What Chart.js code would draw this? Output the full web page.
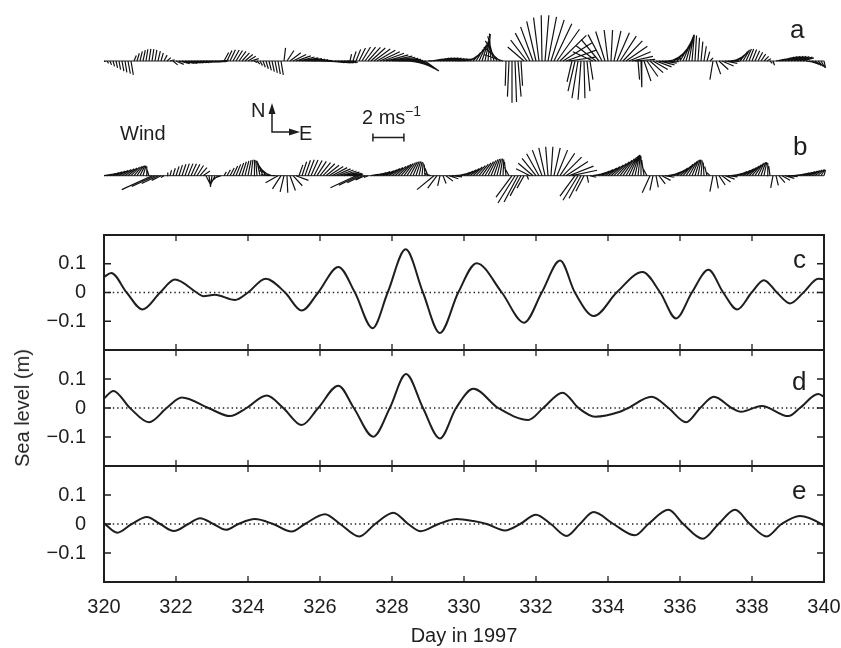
<!DOCTYPE html>
<html>
<head>
<meta charset="utf-8">
<script src="https://cdn.jsdelivr.net/npm/chart.js@4.4.1/dist/chart.umd.min.js"></script>
<style>
  body { margin: 0; background: #fff; }
  #fig { position: relative; width: 841px; height: 648px; overflow: hidden;
         font-family: "Liberation Sans", Arial, Helvetica, sans-serif; color: #1e1e1e; }
  canvas { position: absolute; left: 0; }
  .t { position: absolute; white-space: nowrap; line-height: 1; font-size: 20px; }
  .letter { font-size: 26px; }
</style>
</head>
<body>
<div id="fig">
  <canvas id="wind" width="841" height="220" style="top:0"></canvas>
  <canvas id="panelC" width="841" height="135" style="top:225px"></canvas>
  <canvas id="panelD" width="841" height="136" style="top:340px"></canvas>
  <canvas id="panelE" width="841" height="192" style="top:456px"></canvas>

  <div class="t letter" style="left:790px;top:16px">a</div>
  <div class="t letter" style="left:793px;top:133px">b</div>
  <div class="t letter" style="left:793px;top:246px">c</div>
  <div class="t letter" style="left:792px;top:368px">d</div>
  <div class="t letter" style="left:792px;top:477px">e</div>

  <div class="t" style="left:120px;top:123px">Wind</div>
  <div class="t" style="left:251px;top:100px">N</div>
  <div class="t" style="left:299px;top:123px">E</div>
  <div class="t" style="left:362px;top:107px">2 ms</div>
  <div class="t" style="left:405px;top:104px;font-size:14px">−1</div>

  <div class="t" style="left:22px;top:408px;transform:translate(-50%,-50%) rotate(-90deg)">Sea level (m)</div>
  <div class="t" style="left:464px;top:625px;transform:translateX(-50%)">Day in 1997</div>
</div>
<script>
const ink = '#1e1e1e';
const family = '"Liberation Sans", Arial, Helvetica, sans-serif';

// wind sticks (m/s), 2-hourly from day 320; one row per day
const windStart = 320;
const windStep = 1 / 12;

const aU = [
  0.1, 0.1, 0.1, 0.1, 0.1, 0.1, 0.12, 0.12, 0.15, 0.15, 0.15, 0.15,
  0.15, 0.15, 0.12, 0.12, 0.12, 0.12, 0.15, 0.15, 0.2, 0.25, 0.3, 0.3,
  0.5, 0.7, 0.8, 0.8, 0.8, 0.8, 0.8, 0.8, 0.8, 0.8, 0.8, 0.8,
  0.75, 0.7, 0.6, 0.5, 0.3, 0.32, 0.35, 0.4, 0.42, 0.45, 0.48, 0.5,
  0.5, 0.5, 0.2, 0.18, 0.16, 0.15, 0.15, 0.15, 0.15, 0.15, 0.15, 0.15,
  0.1, 0.45, 0.7, 0.85, 0.95, 1.0, 1.05, 1.1, 1.1, 1.1, 1.05, 1.0,
  1.0, 1.0, 1.0, 1.0, 1.0, 1.0, 1.0, 1.0, 0.9, 0.6, 0.1, 0.2,
  0.3, 0.42, 0.55, 0.68, 0.8, 0.92, 1.05, 1.18, 1.28, 1.36, 1.44, 1.5,
  1.5, 1.5, 1.48, 1.42, 1.35, 1.25, 1.2, 1.15, 1.1, 1.05, 1.0, 0.9,
  0.6, 0.75, 0.8, 0.8, 0.8, 0.8, 0.8, 0.8, 0.8, 0.8, 0.75, 0.7,
  0.6, 0.55, 0.5, 0.5, 0.5, 0.48, 0.42, 0.32, 0.15, -0.1, -0.4, -0.75,
  -1.05, -1.2, -0.05, -0.1, 0.0, 0.1, 0.2, 0.1, -1.05, -1.05, -0.95, -0.8,
  -0.6, -0.35, -0.05, 0.25, 0.55, 0.85, 1.15, 1.45, 1.7, 1.9, 1.95, 1.7,
  -0.32, -0.45, -0.39, -0.19, 0.06, 0.19, 0.19, -1.3, -1.3, -1.15, -0.9, -0.6,
  -0.25, 0.1, 0.45, 0.8, 1.05, 1.25, 1.38, 1.4, 1.35, 1.3, 0.1, 0.05,
  0.45, 0.7, 0.85, 0.95, 1.0, 1.0, 0.95, 0.9, 0.85, 0.82, 0.8, 0.75,
  0.68, 0.58, 0.45, 0.3, 0.15, 0.1, 0.1, 0.12, 0.15, 0.18, 0.2, -0.2,
  0.3, 0.6, 0.75, 0.8, 0.75, 0.7, 0.65, 0.6, 0.5, 0.42, 0.35, 0.3,
  0.3, 0.3, 0.3, 0.3, 0.3, 0.25, 0.15, 0.1, 0.6, 0.8, 0.8, 0.8,
  0.8, 0.8, 0.8, 0.8, 0.8, 0.7, 0.5, 0.5, 0.45, 0.4, 0.35, 0.25,
  0.1
];
const aV = [
  -0.05, -0.15, -0.25, -0.35, -0.45, -0.55, -0.65, -0.74, -0.82, -0.9, 0.35, 0.5,
  0.62, 0.7, 0.76, 0.78, 0.77, 0.72, 0.64, 0.52, 0.38, 0.22, 0.08, -0.25,
  -0.22, -0.18, -0.15, -0.15, -0.13, -0.12, -0.1, -0.1, -0.09, -0.08, -0.07, -0.06,
  -0.05, -0.04, -0.02, 0.05, 0.55, 0.68, 0.72, 0.71, 0.68, 0.62, 0.53, 0.42,
  0.3, 0.15, -0.1, -0.2, -0.3, -0.4, -0.5, -0.6, -0.68, -0.76, -0.84, -0.9,
  0.85, 0.68, 0.53, 0.42, 0.33, 0.26, 0.2, 0.15, 0.11, 0.08, 0.05, 0.02,
  -0.04, -0.06, -0.08, -0.1, -0.11, -0.12, -0.12, -0.11, -0.08, -0.04, 0.45, 0.62,
  0.75, 0.84, 0.9, 0.9, 0.88, 0.84, 0.78, 0.7, 0.6, 0.5, 0.4, 0.32,
  0.24, 0.17, 0.1, 0.04, -0.03, -0.12, -0.22, -0.32, -0.42, -0.52, -0.6, -0.65,
  0.05, 0.12, 0.16, 0.18, 0.2, 0.2, 0.2, 0.18, 0.16, 0.14, 0.12, 0.12,
  0.15, 0.22, 0.35, 0.55, 0.8, 1.05, 1.3, 1.55, 1.75, 1.78, 1.6, 1.3,
  0.9, 0.4, -1.6, -2.3, -2.7, -2.65, -2.3, -1.6, 0.9, 1.35, 1.8, 2.2,
  2.55, 2.8, 2.95, 2.95, 2.85, 2.65, 2.4, 2.05, 1.65, 1.2, 0.7, 0.25,
  -1.35, -1.94, -2.4, -2.5, -2.4, -1.94, -1.2, 0.6, 1.0, 1.4, 1.7, 1.9,
  2.0, 2.0, 1.95, 1.82, 1.6, 1.3, 0.95, 0.6, 0.3, 0.1, -1.2, -1.7,
  -1.3, -1.0, -0.75, -0.55, -0.38, -0.25, -0.14, -0.05, 0.15, 0.4, 0.65, 0.9,
  1.15, 1.38, 1.55, 1.67, 1.7, 1.64, 1.5, 1.25, 0.95, 0.6, 0.2, -1.2,
  -0.85, -0.55, -0.32, -0.15, -0.02, 0.15, 0.32, 0.48, 0.62, 0.72, 0.78, 0.78,
  0.74, 0.66, 0.56, 0.44, 0.3, 0.15, -0.15, -0.27, 0.12, 0.2, 0.25, 0.28,
  0.3, 0.3, 0.3, 0.28, 0.25, 0.2, -0.08, -0.15, -0.22, -0.29, -0.36, -0.42,
  -0.45
];
const bU = [
  0.5, 0.55, 0.6, 0.6, 0.6, 0.6, 0.6, 0.6, 0.58, 0.55, 0.5, 0.42,
  0.32, 0.2, 0.05, -0.15, -1.95, -1.5, -1.05, -0.6, -0.2, 0.05, 0.1, 0.15,
  0.2, 0.22, 0.25, 0.28, 0.32, 0.35, 0.38, 0.42, 0.45, 0.45, 0.3, 0.1,
  -0.1, -0.3, -0.45, -0.4, 0.15, 0.22, 0.27, 0.3, 0.3, 0.3, 0.28, 0.25,
  0.2, 0.12, 0.03, -0.08, -0.2, -0.35, -0.5, -0.65, -0.8, -0.9, -0.8, -0.55,
  -0.25, 0.05, 0.35, 0.6, 0.8, 0.25, 0.3, 0.35, 0.4, 0.45, 0.52, 0.6,
  0.68, 0.76, 0.84, 0.92, 0.98, 1.0, 1.0, 1.0, 1.0, 0.95, 0.85, 0.6,
  -1.65, -1.3, -0.95, -0.6, -0.25, 0.45, 0.55, 0.6, 0.65, 0.7, 0.7, 0.7,
  0.7, 0.7, 0.68, 0.65, 0.6, 0.55, 0.48, 0.4, 0.3, 0.2, 0.08, -0.05,
  -0.2, -0.45, -1.1, -0.6, -0.15, 0.2, 0.45, 0.6, 0.65, 0.6, 0.6, 0.6,
  0.6, 0.6, 0.6, 0.6, 0.6, 0.6, 0.58, 0.55, 0.5, 0.44, 0.36, 0.27,
  0.17, 0.05, -0.1, -0.3, -1.03, -1.1, -0.9, -0.7, -0.45, 0.1, -0.9, -0.95,
  -0.9, -0.8, -0.62, -0.4, -0.15, 0.12, 0.4, 0.68, 0.95, 1.2, 1.42, 1.58,
  1.62, -0.97, -0.97, -0.77, -0.52, 0.1, 0.4, 0.55, 0.62, 0.68, 0.72, 0.76,
  0.78, 0.8, 0.8, 0.8, 0.78, 0.74, 0.68, 0.58, 0.45, 0.3, 0.15, 0.0,
  -0.15, -0.3, -0.5, -0.2, 0.15, 0.4, 0.55, 0.6, 0.6, 0.65, 0.7, 0.7,
  0.7, 0.65, 0.6, 0.52, 0.42, 0.32, 0.2, 0.08, -0.05, -0.15, -0.2, -0.2,
  0.15, 0.4, 0.55, 0.62, 0.62, 0.6, 0.62, 0.65, 0.68, 0.7, 0.68, 0.64,
  0.58, 0.5, 0.4, 0.3, 0.18, 0.05, -0.08, -0.15, 0.15, 0.38, 0.52, 0.6,
  0.62, 0.6, 0.6, 0.6, 0.6, 0.6, 0.58, 0.55, 0.5, 0.45, 0.38, 0.25,
  0.1
];
const bV = [
  0.08, 0.14, 0.2, 0.25, 0.3, 0.35, 0.4, 0.45, 0.5, 0.55, 0.6, 0.63,
  0.65, 0.65, 0.6, 0.45, -0.9, -0.7, -0.5, -0.3, -0.12, 0.2, 0.35, 0.48,
  0.6, 0.68, 0.74, 0.78, 0.78, 0.77, 0.74, 0.66, 0.52, 0.3, -0.6, -0.72,
  -0.72, -0.6, -0.4, -0.15, 0.25, 0.38, 0.5, 0.62, 0.73, 0.82, 0.9, 0.96,
  1.0, 1.03, 1.03, 1.0, 0.95, 0.85, 0.72, 0.55, 0.32, 0.05, -0.45, -0.85,
  -1.05, -1.1, -0.95, -0.65, -0.3, 0.7, 0.9, 1.0, 1.03, 1.02, 0.98, 0.92,
  0.85, 0.77, 0.68, 0.6, 0.52, 0.44, 0.37, 0.3, 0.23, 0.16, 0.1, 0.04,
  -0.78, -0.62, -0.45, -0.28, -0.12, 0.08, 0.14, 0.2, 0.26, 0.32, 0.39, 0.46,
  0.53, 0.6, 0.67, 0.74, 0.8, 0.85, 0.89, 0.92, 0.92, 0.9, 0.84, 0.72,
  0.5, 0.15, -0.9, -0.8, -0.65, -0.5, -0.35, -0.2, -0.07, 0.06, 0.14, 0.22,
  0.3, 0.38, 0.47, 0.56, 0.65, 0.74, 0.83, 0.91, 0.98, 1.04, 1.08, 1.1,
  1.1, 1.05, 0.9, 0.55, -1.38, -1.76, -1.7, -1.3, -0.8, -0.25, 0.45, 0.8,
  1.12, 1.42, 1.65, 1.8, 1.87, 1.87, 1.8, 1.65, 1.45, 1.2, 0.92, 0.62,
  0.35, -1.32, -1.58, -1.45, -1.0, -0.45, -0.1, 0.1, 0.2, 0.3, 0.4, 0.5,
  0.6, 0.7, 0.8, 0.9, 1.0, 1.1, 1.18, 1.25, 1.31, 1.35, 1.33, 1.25,
  1.0, 0.55, -1.1, -0.95, -0.75, -0.52, -0.3, -0.1, 0.12, 0.25, 0.37, 0.5,
  0.62, 0.74, 0.85, 0.93, 0.99, 1.03, 1.03, 0.98, 0.85, 0.6, 0.2, -1.03,
  -0.82, -0.6, -0.4, -0.22, -0.08, 0.08, 0.17, 0.26, 0.35, 0.44, 0.53, 0.62,
  0.7, 0.77, 0.83, 0.87, 0.88, 0.82, 0.62, -0.78, -0.62, -0.45, -0.3, -0.17,
  -0.06, 0.03, 0.08, 0.13, 0.18, 0.22, 0.26, 0.3, 0.34, 0.37, 0.39, 0.4,
  0.38
];

// sea level (m): turning points and zero crossings
const cDays = [320, 320.2, 320.63, 321.07, 321.56, 321.97, 322.57, 322.76, 323.08, 323.64,
  324, 324.49, 325.03, 325.49, 325.95, 326.51, 326.97, 327.46, 327.88, 328.38,
  328.86, 329.33, 329.84, 330.35, 331.05, 331.67, 332.16, 332.67, 333.08, 333.61,
  334.24, 334.96, 335.45, 335.89, 336.33, 336.79, 337.2, 337.59, 337.99, 338.33,
  338.69, 339.06, 339.43, 339.84, 340];
const cLevel = [0.054, 0.068, 0, -0.059, 0, 0.045, 0, -0.013, -0.008, -0.026,
  0, 0.048, 0, -0.063, 0, 0.089, 0, -0.124, 0, 0.15,
  0, -0.141, 0, 0.102, 0, -0.105, 0, 0.111, 0, -0.082,
  0, 0.071, 0, -0.09, 0, 0.079, 0, -0.059, 0, 0.043,
  0, -0.038, 0, 0.048, 0.046];

const dDays = [320, 320.26, 320.72, 321.25, 321.74, 322.16, 322.9, 323.5, 323.96, 324.52,
  324.98, 325.49, 325.95, 326.51, 326.94, 327.48, 327.94, 328.39, 328.86, 329.33,
  329.78, 330.26, 330.95, 331.79, 332.2, 332.74, 333.18, 333.64, 334.33, 334.56,
  335.21, 335.68, 336.17, 336.56, 336.94, 337.44, 337.69, 338.27, 339.01, 339.33,
  339.84, 340];
const dLevel = [0.033, 0.059, 0, -0.049, 0, 0.036, 0, -0.028, 0, 0.043,
  0, -0.059, 0, 0.077, 0, -0.099, 0, 0.117, 0, -0.105,
  0, 0.066, 0, -0.041, 0, 0.053, 0, -0.03, -0.013, 0,
  0.039, 0, -0.049, 0, 0.039, 0, -0.013, 0.007, -0.028, 0,
  0.048, 0.039];

const eDays = [320, 320.37, 320.77, 321.19, 321.56, 321.94, 322.34, 322.67, 323.04, 323.39,
  323.73, 324.19, 324.7, 325.21, 325.58, 326.14, 326.56, 327.09, 327.53, 328.04,
  328.45, 328.8, 329.29, 329.8, 330.26, 330.63, 331.14, 331.56, 332, 332.41,
  332.85, 333.22, 333.6, 334.15, 334.75, 335.12, 335.68, 336.09, 336.63, 337.07,
  337.53, 337.94, 338.41, 338.82, 339.33, 339.93, 340];
const eLevel = [0.003, -0.03, 0, 0.024, 0, -0.024, 0, 0.02, 0, -0.02,
  0, 0.017, 0, -0.026, 0, 0.034, 0, -0.043, 0, 0.039,
  0, -0.025, 0, 0.017, 0.01, 0, -0.022, 0, 0.032, 0,
  -0.041, 0, 0.041, 0, -0.039, 0, 0.049, 0, -0.051, 0,
  0.049, 0, -0.043, 0, 0.028, 0, -0.007];

const dayTicks = [322, 324, 326, 328, 330, 332, 334, 336, 338];
const levelTicks = [-0.1, 0, 0.1];

// layout
const plotLeft = 104, plotRight = 824, canvasW = 841;
const pxPerDay = (plotRight - plotLeft) / 20;
const pxPerMs = 15.5;                  // 2 m/s scale bar is ~31 px
const daysPerMs = pxPerMs / pxPerDay;  // so sticks keep true direction
const windH = 220, aBase = 61, bBase = 175.7;
const scaleBarDay = 327.47;

function sticks(u, v) {
  const pts = [];
  u.forEach((ue, i) => {
    const t = windStart + i * windStep;
    pts.push({x: t, y: 0}, {x: t + ue * daysPerMs, y: v[i]}, {x: t, y: null});
  });
  return pts;
}

const windDecor = {
  id: 'windDecor',
  beforeDatasetsDraw(chart) {
    const {ctx, scales} = chart;
    ctx.save();
    ctx.strokeStyle = ink;
    ctx.lineWidth = 1;
    ['ya', 'yb'].forEach(id => {
      const y = scales[id].getPixelForValue(0);
      ctx.beginPath();
      ctx.moveTo(scales.x.getPixelForValue(320), y);
      ctx.lineTo(scales.x.getPixelForValue(340), y);
      ctx.stroke();
    });
    ctx.restore();
  },
  afterDatasetsDraw(chart) {
    const {ctx, scales} = chart;
    ctx.save();
    ctx.strokeStyle = ink;
    ctx.fillStyle = ink;
    ctx.lineWidth = 1.5;
    // 2 m/s scale bar
    const x0 = scales.x.getPixelForValue(scaleBarDay);
    const x1 = scales.x.getPixelForValue(scaleBarDay + 2 * daysPerMs);
    ctx.beginPath();
    ctx.moveTo(x0, 137.5); ctx.lineTo(x1, 137.5);
    ctx.moveTo(x0, 133.5); ctx.lineTo(x0, 141.5);
    ctx.moveTo(x1, 133.5); ctx.lineTo(x1, 141.5);
    ctx.stroke();
    // N / E arrows
    ctx.beginPath();
    ctx.moveTo(272, 113); ctx.lineTo(272, 132); ctx.lineTo(291, 132);
    ctx.stroke();
    ctx.beginPath();
    ctx.moveTo(272, 103); ctx.lineTo(275.5, 114); ctx.lineTo(268.5, 114); ctx.closePath();
    ctx.fill();
    ctx.beginPath();
    ctx.moveTo(300, 132); ctx.lineTo(289, 128.5); ctx.lineTo(289, 135.5); ctx.closePath();
    ctx.fill();
    ctx.restore();
  }
};

new Chart(document.getElementById('wind'), {
  type: 'scatter',
  data: {
    datasets: [
      {data: sticks(aU, aV), yAxisID: 'ya'},
      {data: sticks(bU, bV), yAxisID: 'yb'}
    ].map(d => Object.assign(d, {showLine: true, borderColor: '#111', borderWidth: 1.2,
                                  pointRadius: 0, spanGaps: false, clip: false}))
  },
  options: {
    responsive: false, animation: false, devicePixelRatio: 1, events: [],
    layout: {padding: {left: plotLeft, right: canvasW - plotRight, top: 0, bottom: 0}},
    plugins: {legend: {display: false}, tooltip: {enabled: false}},
    scales: {
      x: {type: 'linear', min: 320, max: 340, display: false},
      ya: {min: -(windH - aBase) / pxPerMs, max: aBase / pxPerMs, display: false},
      yb: {min: -(windH - bBase) / pxPerMs, max: bBase / pxPerMs, display: false}
    }
  },
  plugins: [windDecor]
});

const frame = {
  id: 'frame',
  beforeDatasetsDraw(chart) {
    const {ctx, chartArea: a, scales: {y}} = chart;
    const y0 = y.getPixelForValue(0);
    ctx.save();
    ctx.strokeStyle = ink;
    ctx.lineWidth = 1.4;
    ctx.setLineDash([1.4, 3]);
    ctx.beginPath();
    ctx.moveTo(a.left, y0); ctx.lineTo(a.right, y0);
    ctx.stroke();
    ctx.restore();
  },
  afterDatasetsDraw(chart) {
    const {ctx, chartArea: a, scales: {x, y}} = chart;
    ctx.save();
    ctx.strokeStyle = ink;
    ctx.lineWidth = 2;
    ctx.strokeRect(a.left, a.top, a.width, a.height);
    ctx.lineWidth = 1.3;
    ctx.beginPath();
    dayTicks.forEach(d => {
      const px = x.getPixelForValue(d);
      ctx.moveTo(px, a.top); ctx.lineTo(px, a.top + 6);
      ctx.moveTo(px, a.bottom); ctx.lineTo(px, a.bottom - 6);
    });
    levelTicks.forEach(v => {
      const py = y.getPixelForValue(v);
      ctx.moveTo(a.left, py); ctx.lineTo(a.left + 7, py);
      ctx.moveTo(a.right, py); ctx.lineTo(a.right - 7, py);
    });
    ctx.stroke();
    ctx.restore();
  }
};

function levelChart(id, days, level, showX) {
  return new Chart(document.getElementById(id), {
    type: 'line',
    data: {
      datasets: [{
        data: days.map((d, i) => ({x: d, y: level[i]})),
        borderColor: ink, borderWidth: 2, pointRadius: 0,
        cubicInterpolationMode: 'monotone', fill: false
      }]
    },
    options: {
      responsive: false, animation: false, devicePixelRatio: 1, events: [],
      layout: {padding: {top: 10, right: canvasW - plotRight, bottom: showX ? 0 : 10, left: 0}},
      plugins: {legend: {display: false}, tooltip: {enabled: false}},
      scales: {
        x: {
          type: 'linear', min: 320, max: 340, display: showX,
          grid: {display: false, drawTicks: false}, border: {display: false},
          ticks: {stepSize: 2, padding: 13, color: ink, maxRotation: 0, autoSkip: false,
                  font: {family, size: 20}},
          afterFit: s => {
            s.height = showX ? 66 : 0;
            s.paddingLeft = 0; s.paddingRight = 0;
          }
        },
        y: {
          min: -0.2, max: 0.2,
          grid: {display: false, drawTicks: false}, border: {display: false},
          afterBuildTicks: s => { s.ticks = levelTicks.map(v => ({value: v})); },
          afterFit: s => { s.width = plotLeft; s.paddingTop = 0; s.paddingBottom = 0; },
          ticks: {padding: 18, color: ink, font: {family, size: 20},
                  callback: v => v === 0 ? '0' : (v < 0 ? '\u2212' : '') + Math.abs(v).toFixed(1)}
        }
      }
    },
    plugins: [frame]
  });
}

levelChart('panelC', cDays, cLevel, false);
levelChart('panelD', dDays, dLevel, false);
levelChart('panelE', eDays, eLevel, true);
</script>
</body>
</html>
